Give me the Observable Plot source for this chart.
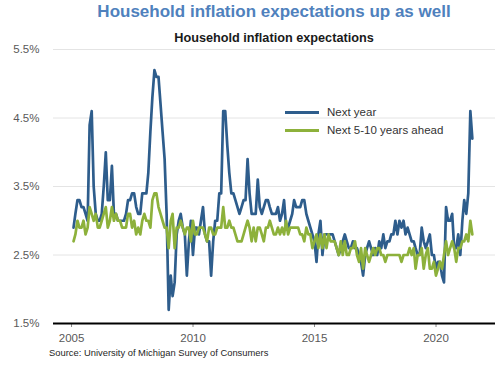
<!DOCTYPE html>
<html><head><meta charset="utf-8">
<script src="https://cdn.jsdelivr.net/npm/d3@7"></script>
<script src="https://cdn.jsdelivr.net/npm/@observablehq/plot@0.6"></script>
<style>
body{margin:0;background:#fff;font-family:"Liberation Sans",Arial,sans-serif;}
#wrap{position:relative;width:500px;height:365px;overflow:hidden;background:#fff;}
.t{position:absolute;white-space:nowrap;line-height:1;}
.lg{position:absolute;height:2.6px;width:34px;left:285px;}
</style></head><body><div id="wrap">
<div class="t" style="left:0;width:548px;text-align:center;top:3px;font-size:17px;font-weight:bold;color:#4f81bd">Household inflation expectations up as well</div>
<div class="t" style="left:0;width:548px;text-align:center;top:32px;font-size:12.7px;font-weight:bold;color:#1a1a1a">Household inflation expectations</div>
<div id="chart" style="position:absolute;left:0;top:45px"></div>
<div class="lg" id="lg0" style="top:111px"></div>
<div class="lg" id="lg1" style="top:129px"></div>
<div class="t" id="lt0" style="left:327px;top:107px;font-size:11.5px;color:#333"></div>
<div class="t" id="lt1" style="left:327px;top:125px;font-size:11.5px;color:#333"></div>
<div class="t" style="left:49px;top:348px;font-size:9.4px;color:#262626">Source: University of Michigan Survey of Consumers</div>
</div>
<script>
const startYear = 2005;
const seriesNames = ["Next year", "Next 5-10 years ahead"];
const seriesColors = ["#2e5d8c", "#8db13b"];
const yTicks = [1.5, 2.5, 3.5, 4.5, 5.5];
const xTickYears = [2005, 2010, 2015, 2020];

// Monthly values, Jan 2005 - Jun 2021
const nextYear = [
  2.9, 3.1, 3.3, 3.3, 3.2, 3.2, 3.1, 3.0, 4.4, 4.6, 3.5, 3.1,
  3.0, 3.0, 3.1, 3.5, 4.0, 3.3, 3.3, 3.8, 3.1, 3.1, 3.0, 3.0,
  3.0, 3.0, 3.1, 3.3, 3.3, 3.4, 3.4, 3.2, 3.1, 3.1, 3.4, 3.4,
  3.4, 3.7, 4.3, 4.8, 5.2, 5.1, 5.1, 4.7, 4.3, 3.9, 3.1, 1.7,
  2.2, 1.9, 2.1, 2.8, 3.0, 3.1, 2.9, 2.8, 2.2, 2.7, 3.0, 2.5,
  2.9, 2.9, 2.8, 3.0, 3.2, 2.8, 2.7, 2.7, 2.2, 2.7, 3.0, 3.0,
  3.4, 3.4, 4.6, 4.6, 4.1, 3.7, 3.4, 3.4, 3.3, 3.2, 3.1, 3.2,
  3.3, 3.3, 3.9, 3.4, 3.1, 3.1, 3.1, 3.6, 3.2, 3.1, 3.2, 3.3,
  3.3, 3.2, 3.1, 3.1, 3.1, 3.2, 3.0, 3.1, 3.3, 2.9, 2.9, 3.0,
  3.1, 3.3, 3.2, 3.2, 3.2, 3.3, 3.3, 3.1, 3.0, 2.9, 2.8, 2.7,
  2.4, 2.8, 3.0, 2.5, 2.8, 2.8, 2.8, 2.8, 2.8, 2.7, 2.6, 2.5,
  2.6, 2.7, 2.8, 2.7, 2.6, 2.6, 2.7, 2.6, 2.6, 2.5, 2.4, 2.2,
  2.5, 2.6, 2.7, 2.6, 2.5, 2.6, 2.5, 2.7, 2.6, 2.8, 2.6, 2.7,
  2.7, 2.8, 2.8, 3.0, 2.8, 3.0, 2.9, 3.0, 2.8, 2.9, 2.8, 2.7,
  2.7, 2.6, 2.5, 2.5, 2.9, 2.7, 2.6, 2.7, 2.8, 2.5, 2.5, 2.3,
  2.4, 2.4, 2.2, 2.1, 3.2, 3.0, 3.0, 3.1, 2.6, 2.6, 2.8, 2.5,
  3.0, 3.3, 3.1, 3.4, 4.6, 4.2
];
const next5to10 = [
  2.7, 2.8, 3.0, 2.9, 2.9, 3.0, 2.8, 2.9, 3.2, 3.1, 3.0, 3.1,
  2.9, 2.9, 3.0, 3.1, 3.2, 2.9, 3.0, 3.2, 3.0, 3.1, 3.0, 3.0,
  2.9, 2.9, 2.9, 3.1, 3.1, 2.9, 3.0, 2.8, 2.9, 2.8, 3.0, 3.1,
  3.0, 3.0, 2.9, 3.3, 3.4, 3.4, 3.2, 3.1, 3.0, 2.9, 2.9, 2.6,
  3.0, 3.1, 2.6, 2.9, 2.9, 3.0, 2.9, 2.8, 2.9, 2.9, 2.7, 3.0,
  2.8, 2.8, 2.9, 2.9, 2.9, 2.8, 2.7, 2.9, 2.9, 2.8, 2.8, 2.9,
  2.9, 2.9, 3.2, 2.9, 2.9, 3.0, 2.9, 2.9, 2.8, 2.7, 2.7, 2.7,
  2.8, 2.9, 3.0, 2.9, 2.7, 2.9, 2.7, 2.9, 2.9, 2.8, 2.7, 2.9,
  2.9, 3.0, 2.9, 2.8, 2.8, 2.9, 2.8, 2.9, 2.8, 3.0, 2.8, 2.9,
  2.9, 2.9, 2.9, 2.9, 2.8, 2.8, 2.7, 2.9, 2.8, 2.8, 2.6, 2.7,
  2.8, 2.6, 2.8, 2.6, 2.8, 2.6, 2.8, 2.7, 2.7, 2.7, 2.6, 2.5,
  2.7, 2.5, 2.7, 2.5, 2.5, 2.6, 2.6, 2.7, 2.5, 2.4, 2.6, 2.3,
  2.6, 2.5, 2.4, 2.5, 2.6, 2.5, 2.6, 2.6, 2.5, 2.5, 2.4, 2.5,
  2.5, 2.5, 2.5, 2.5, 2.5, 2.5, 2.4, 2.5, 2.5, 2.5, 2.6, 2.5,
  2.6, 2.3, 2.5, 2.5, 2.6, 2.3, 2.5, 2.6, 2.3, 2.3, 2.4, 2.2,
  2.3, 2.4, 2.3, 2.5, 2.7, 2.5, 2.6, 2.7, 2.6, 2.4, 2.6, 2.6,
  2.7, 2.7, 2.8, 2.7, 3.0, 2.8
];

const monthDate = i => new Date(Date.UTC(startYear, i + 1, 0));
const rows = [
  ...nextYear.map((v, i) => ({date: monthDate(i), value: v, series: seriesNames[0]})),
  ...next5to10.map((v, i) => ({date: monthDate(i), value: v, series: seriesNames[1]}))
];
const xTicks = xTickYears.map(y => new Date(Date.UTC(y, 0, 1)));

const chart = Plot.plot({
  width: 500, height: 300,
  marginTop: 4, marginBottom: 22, marginLeft: 53, marginRight: 5,
  style: {fontFamily: "Liberation Sans, Arial, sans-serif", fontSize: "11.5px", color: "#595959", overflow: "visible", background: "transparent"},
  x: {type: "utc", domain: [new Date(Date.UTC(2004, 3, 5)), new Date(Date.UTC(2022, 5, 13))]},
  y: {domain: [1.5, 5.5]},
  color: {domain: seriesNames, range: seriesColors},
  marks: [
    Plot.ruleY(yTicks, {stroke: "#e4e4e4", strokeWidth: 1}),
    Plot.axisY(yTicks, {tickSize: 0, tickPadding: 14, tickFormat: d => d.toFixed(1) + "%", label: null}),
    Plot.axisX(xTicks, {tickSize: 4, tickPadding: 6, tickFormat: d => String(d.getUTCFullYear()), stroke: "#888", label: null}),
    Plot.line(rows, {x: "date", y: "value", z: "series", stroke: "series", strokeWidth: 2.7, strokeLinejoin: "round"}),
    Plot.ruleY([1.5], {stroke: "#000", strokeWidth: 2})
  ]
});
document.getElementById("chart").appendChild(chart);
seriesNames.forEach((n, i) => {
  document.getElementById("lg" + i).style.background = seriesColors[i];
  document.getElementById("lt" + i).textContent = n;
});
</script>
</body></html>
